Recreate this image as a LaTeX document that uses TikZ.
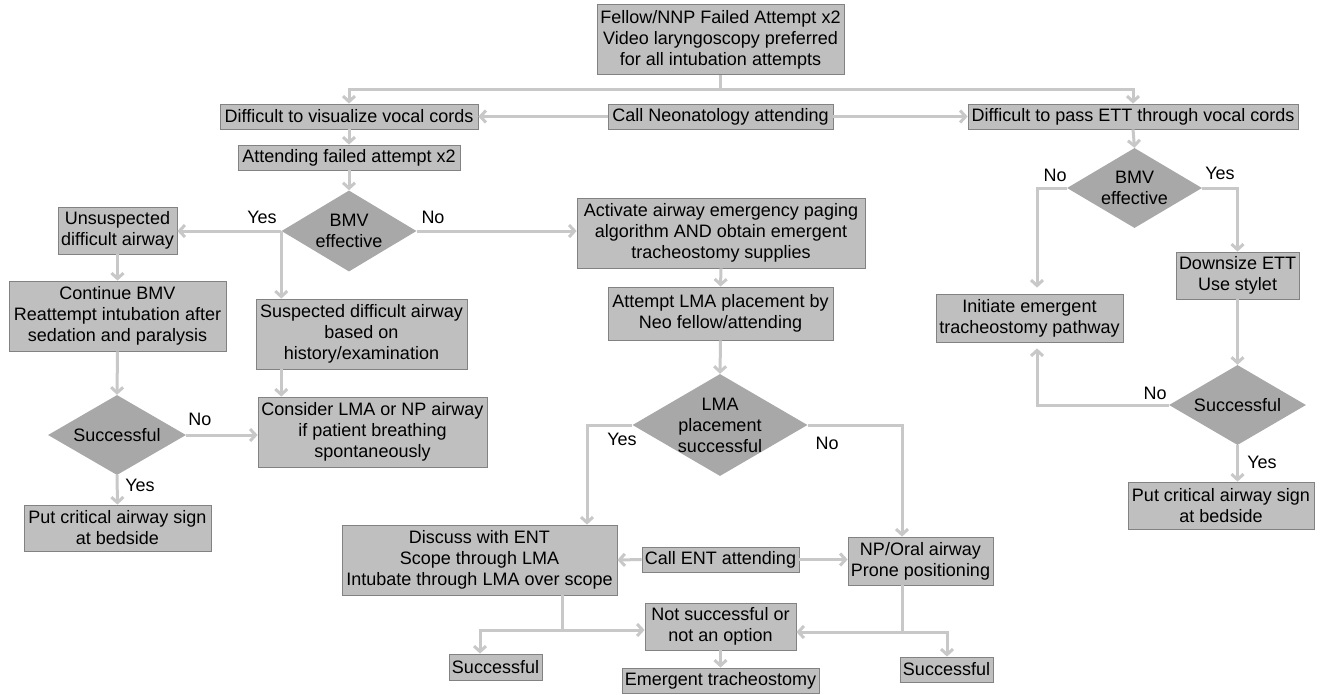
\documentclass[tikz,border=0pt]{standalone}
\usepackage{fontspec}
\setmainfont{Liberation Sans}
\usetikzlibrary{shapes.geometric,arrows.meta,calc}
\definecolor{boxgray}{RGB}{191,191,191}
\definecolor{diagray}{RGB}{168,168,168}
\definecolor{linegray}{RGB}{200,200,200}
\definecolor{bordergray}{RGB}{130,130,130}
\begin{document}
\begin{tikzpicture}[x=1pt,y=-1pt,
  every node/.style={font=\fontsize{18}{21}\selectfont},
  box/.style={draw=bordergray, line width=0.8pt, fill=boxgray, align=center, inner xsep=2pt, inner ysep=0pt},
  dia/.style={diamond, fill=diagray, inner sep=0pt},
  dtext/.style={align=center, inner sep=0pt},
  conn/.style={draw=linegray, line width=3pt},
  arr/.style={conn, -{Straight Barb[length=5.5pt,width=12pt]}},
  lab/.style={inner sep=0pt}]
\useasboundingbox (0,0) rectangle (1322,694);

% ---------- top ----------
\node[box, minimum width=247pt, minimum height=70pt] (top) at (720.5,39.5)
  {Fellow/NNP Failed Attempt x2\\Video laryngoscopy preferred\\for all intubation attempts};
\coordinate (hb) at (720.5,89);
\node[box, minimum width=258pt, minimum height=25pt] (vis) at (349,116.5) {Difficult to visualize vocal cords};
\node[box, minimum width=225pt, minimum height=25pt] (call) at (720.5,116.5) {Call Neonatology attending};
\node[box, minimum width=330pt, minimum height=25pt] (ett) at (1133,116.5) {Difficult to pass ETT through vocal cords};

% ---------- left column ----------
\node[box, minimum width=222pt, minimum height=25pt] (att) at (349,157.5) {Attending failed attempt x2};
\node[dia, minimum width=135pt, minimum height=81pt,
  label={[dtext]center:BMV\\effective}] (bmv1) at (349,231) {};
\node[box, minimum width=119pt, minimum height=47pt] (uns) at (117.5,230.5) {Unsuspected\\difficult airway};
\node[box, minimum width=217pt, minimum height=70pt] (cont) at (117.5,316)
  {Continue BMV\\Reattempt intubation after\\sedation and paralysis};
\node[dia, minimum width=138pt, minimum height=80pt,
  label={[dtext]center:Successful}] (succ1) at (117,435) {};
\node[box, minimum width=187pt, minimum height=46pt] (put1) at (117.5,528) {Put critical airway sign\\at bedside};
\node[box, minimum width=211pt, minimum height=70pt] (susp) at (361.5,334)
  {Suspected difficult airway\\based on\\history/examination};
\node[box, minimum width=229pt, minimum height=70pt] (cons) at (372.5,432)
  {Consider LMA or NP airway\\if patient breathing\\spontaneously};

% ---------- middle column ----------
\node[box, minimum width=288pt, minimum height=70pt] (act) at (721,233)
  {Activate airway emergency paging\\algorithm AND obtain emergent\\tracheostomy supplies};
\node[box, minimum width=225pt, minimum height=53pt] (attempt) at (720.5,313.5)
  {Attempt LMA placement by\\Neo fellow/attending};
\node[dia, minimum width=175pt, minimum height=102pt,
  label={[dtext]center:LMA\\placement\\successful}] (lma) at (720,425) {};
\node[box, minimum width=275pt, minimum height=70pt] (disc) at (479.5,560)
  {Discuss with ENT\\Scope through LMA\\Intubate through LMA over scope};
\node[box, minimum width=157pt, minimum height=25pt] (callent) at (720.5,559.5) {Call ENT attending};
\node[box, minimum width=145pt, minimum height=48pt] (np) at (920.5,561) {NP/Oral airway\\Prone positioning};
\node[box, minimum width=151pt, minimum height=47pt] (notsucc) at (720.5,626.5) {Not successful or\\not an option};
\node[box, minimum width=197pt, minimum height=25pt] (emerg) at (720.5,680.5) {Emergent tracheostomy};
\node[box, minimum width=93pt, minimum height=26pt] (succL) at (495.5,667) {Successful};
\node[box, minimum width=93pt, minimum height=25pt] (succR) at (946.5,669.5) {Successful};
\coordinate (dj) at (562,630);
\coordinate (nj) at (902,632);

% ---------- right column ----------
\node[dia, minimum width=135pt, minimum height=80pt,
  label={[dtext]center:BMV\\effective}] (bmv2) at (1134.5,188) {};
\node[box, minimum width=187pt, minimum height=48pt] (init) at (1029.5,318)
  {Initiate emergent\\tracheostomy pathway};
\node[box, minimum width=123pt, minimum height=47pt] (down) at (1237.5,275.5) {Downsize ETT\\Use stylet};
\node[dia, minimum width=137pt, minimum height=80pt,
  label={[dtext]center:Successful}] (succ2) at (1237.5,405) {};
\node[box, minimum width=186pt, minimum height=47pt] (put2) at (1221,505.5) {Put critical airway sign\\at bedside};

% ---------- connectors ----------
\draw[conn] (top.south) -- (hb);
\draw[arr] (hb) -| (vis.north);
\draw[arr] (hb) -| (ett.north);
\draw[arr] (call.west) -- (vis.east);
\draw[arr] (call.east) -- (ett.west);
\draw[arr] (vis.south) -- (att.north);
\draw[arr] (att.south) -- (bmv1.north);
\draw[arr] (bmv1.west) -- (bmv1.west -| uns.east);
\draw[arr] (bmv1.west) -- (bmv1.west |- susp.north);
\draw[arr] (bmv1.west |- susp.south) -- (bmv1.west |- cons.north);
\draw[arr] (bmv1.east) -- (bmv1.east -| act.west);
\draw[arr] (uns.south) -- (cont.north);
\draw[arr] (cont.south) -- (succ1.north);
\draw[arr] (succ1.east) -- (succ1.east -| cons.west);
\draw[arr] (succ1.south) -- (put1.north);
\draw[arr] (act.south) -- (attempt.north);
\draw[arr] (attempt.south) -- (lma.north);
\draw[arr] (lma.west) -| ([xshift=107.5pt]disc.north);
\draw[arr] (lma.east) -| ([xshift=-18.5pt]np.north);
\draw[arr] (callent.west) -- (disc.east);
\draw[arr] (callent.east) -- (callent.east -| np.west);
\draw[conn] (dj |- disc.south) -- (dj);
\draw[arr] (dj) -- (dj -| notsucc.west);
\draw[arr] (dj) -| ([xshift=-15.5pt]succL.north);
\draw[conn] (nj |- np.south) -- (nj);
\draw[arr] (nj) -- (nj -| notsucc.east);
\draw[arr] (nj) -| ([xshift=0.5pt]succR.north);
\draw[arr] (notsucc.south) -- (emerg.north);
\draw[arr] (ett.south) -- (bmv2.north);
\draw[arr, shorten >=6pt] (bmv2.west) -| ([xshift=7.5pt]init.north);
\draw[arr] (bmv2.east) -| (down.north);
\draw[arr] (down.south) -- (succ2.north);
\draw[arr, shorten >=6pt] (succ2.west) -| ([xshift=7.5pt]init.south);
\draw[arr] (succ2.south) -- (succ2.south |- put2.north);

% ---------- labels ----------
\node[lab] (l1) at (262,217) {Yes};
\node[lab] (l2) at (433,217) {No};
\node[lab] (l3) at (200,419) {No};
\node[lab] (l4) at (140,485) {Yes};
\node[lab] (l5) at (622,439) {Yes};
\node[lab] (l6) at (827,443) {No};
\node[lab] (l7) at (1055,175) {No};
\node[lab] (l8) at (1220,173) {Yes};
\node[lab] (l9) at (1155,393) {No};
\node[lab] (l10) at (1262,462) {Yes};
\end{tikzpicture}
\end{document}
